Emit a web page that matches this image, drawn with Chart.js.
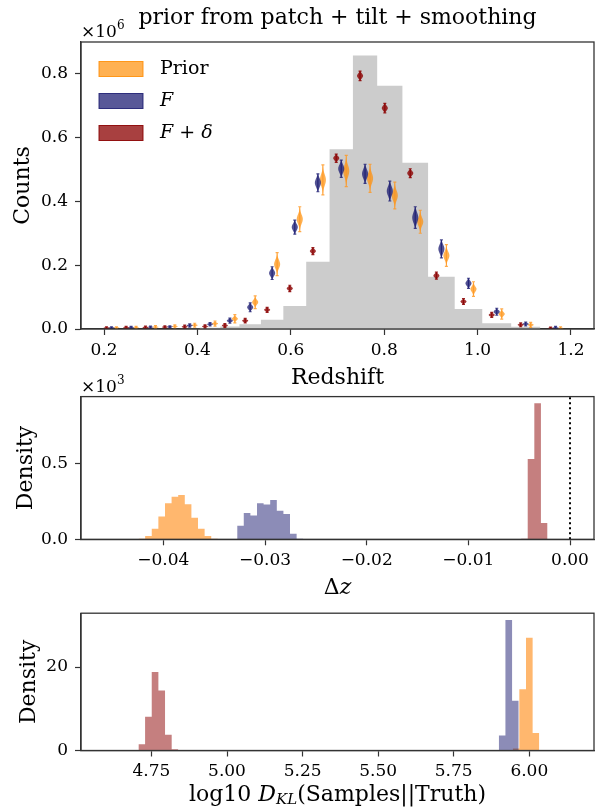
<!DOCTYPE html>
<html>
<head>
<meta charset="utf-8">
<script src="https://cdn.jsdelivr.net/npm/chart.js@4.4.1/dist/chart.umd.min.js"></script>
<style>
  body { margin: 0; background: #fff; width: 601px; height: 809px; position: relative; overflow: hidden; }
  canvas { position: absolute; left: 0; }
</style>
</head>
<body>
<canvas id="top" width="601" height="392" style="top:0px"></canvas>
<canvas id="mid" width="601" height="232" style="top:368px"></canvas>
<canvas id="bot" width="601" height="213" style="top:596px"></canvas>
<script>
// ---------- top panel: counts per redshift bin (units of 1e6) ----------
const zEdges = [0.195, 0.237, 0.279, 0.320, 0.362, 0.405, 0.449, 0.490, 0.536, 0.584, 0.633,
                0.683, 0.733, 0.785, 0.839, 0.894, 0.951, 1.010, 1.072, 1.134, 1.200];
const truthCounts = [0, 0, 0, 0, 0.001, 0.004, 0.008, 0.015, 0.029, 0.072,
                     0.211, 0.563, 0.857, 0.762, 0.521, 0.164, 0.063, 0.018, 0.007, 0];
// violin medians and half ranges (min..max) per bin
const priorMed  = [0.004, 0.005, 0.006, 0.008, 0.012, 0.017, 0.032, 0.084, 0.203, 0.344,
                   0.467, 0.495, 0.472, 0.418, 0.336, 0.230, 0.125, 0.047, 0.013, 0.002];
const priorHalf = [0.003, 0.003, 0.005, 0.005, 0.006, 0.008, 0.013, 0.020, 0.036, 0.039,
                   0.047, 0.049, 0.044, 0.042, 0.036, 0.034, 0.023, 0.016, 0.008, 0.005];
const fMed      = [0.004, 0.005, 0.006, 0.007, 0.011, 0.015, 0.026, 0.068, 0.175, 0.319,
                   0.458, 0.502, 0.486, 0.432, 0.349, 0.251, 0.143, 0.054, 0.016, 0.003];
const fHalf     = [0.003, 0.003, 0.003, 0.003, 0.005, 0.005, 0.008, 0.014, 0.020, 0.022,
                   0.028, 0.027, 0.030, 0.031, 0.034, 0.028, 0.016, 0.011, 0.006, 0.005];
const fdMed     = [0.003, 0.004, 0.005, 0.006, 0.007, 0.008, 0.011, 0.026, 0.060, 0.127,
                   0.244, 0.535, 0.793, 0.692, 0.488, 0.167, 0.086, 0.044, 0.013, 0.002];
const fdHalf    = [0.004, 0.004, 0.004, 0.004, 0.005, 0.005, 0.006, 0.007, 0.008, 0.010,
                   0.011, 0.013, 0.015, 0.015, 0.014, 0.011, 0.009, 0.008, 0.006, 0.004];
const zTicks = [0.2, 0.4, 0.6, 0.8, 1.0, 1.2];
const countTicks = [0, 0.2, 0.4, 0.6, 0.8];

// ---------- middle panel: delta z densities (units of 1e3) ----------
const dzWidth = 0.00065;
const dzPriorStart = -0.04244;
const dzPrior = [0.004, 0.022, 0.070, 0.150, 0.238, 0.282, 0.293, 0.231, 0.143, 0.070, 0.022, 0.004];
const dzFStart = -0.03274;
const dzF = [0.090, 0.173, 0.158, 0.238, 0.230, 0.260, 0.188, 0.168, 0.037, 0.003];
const dzFdStart = -0.00481;
const dzFd = [0.004, 0.531, 0.899, 0.108];
const dzTicks = [-0.04, -0.03, -0.02, -0.01, 0];
const dzDensTicks = [0, 0.5];

// ---------- bottom panel: log10 KL densities ----------
const klWidth = 0.022;
const klFdStart = 4.707;
const klFd = [1.5, 8.1, 18.8, 14.4, 3.8, 0.3];
const klFStart = 5.899;
const klF = [3.6, 31.3, 11.9];
const klPriorStart = 5.945;
const klPrior = [0.5, 14.7, 27.0, 4.2];
const klTicks = [4.75, 5.0, 5.25, 5.5, 5.75, 6.0];
const klDensTicks = [0, 20];

// ---------- styling ----------
const SERIF = "'DejaVu Serif', serif";
Chart.defaults.font.family = SERIF;
Chart.defaults.font.size = 17;
Chart.defaults.color = '#000';
Chart.defaults.animation = false;

const colPrior = 'rgba(255,128,0,0.57)';
const colF = 'rgba(25,25,112,0.5)';
const colFd = 'rgba(139,0,0,0.5)';

function uniformEdges(start, w, n) {
  return Array.from({length: n + 1}, (_, i) => start + i * w);
}
function steps(edges, heights) {
  const pts = heights.map((h, i) => ({x: edges[i], y: h}));
  pts.push({x: edges[heights.length], y: 0});
  return pts;
}
function histSet(edges, heights, color, order) {
  return {
    data: steps(edges, heights), stepped: 'before', fill: 'origin',
    backgroundColor: color, borderWidth: 0, borderColor: 'rgba(0,0,0,0)',
    pointRadius: 0, order: order
  };
}

const tickGrid = {display: true, drawOnChartArea: false, drawTicks: true, tickLength: 6, tickColor: '#333', tickWidth: 1.2};
const spine = {display: true, color: '#333', width: 1.3};

function xAxis(min, max, ticks, fmt, height, title) {
  return {
    type: 'linear', min: min, max: max,
    afterBuildTicks: s => { s.ticks = ticks.map(v => ({value: v})); },
    ticks: {callback: fmt, padding: 5, maxRotation: 0, autoSkip: false, color: '#000'},
    grid: tickGrid, border: spine,
    title: title ? {display: true, text: title, font: {size: 22}, padding: {top: 0, bottom: 1}} : {display: false},
    afterFit: s => { s.height = height; }
  };
}
function yAxis(min, max, ticks, fmt, title, pad) {
  return {
    type: 'linear', min: min, max: max,
    afterBuildTicks: s => { s.ticks = ticks.map(v => ({value: v})); },
    ticks: {callback: fmt, padding: 7, color: '#000'},
    grid: tickGrid, border: spine,
    title: {display: true, text: title, font: {size: 22}, padding: {top: pad, bottom: 0}},
    afterFit: s => { s.width = 81; }
  };
}

const frame = {
  id: 'frame',
  afterDraw(chart) {
    const {ctx, chartArea: a} = chart;
    ctx.save();
    ctx.strokeStyle = '#333';
    ctx.lineWidth = 1.3;
    ctx.strokeRect(a.left, a.top, a.width, a.height);
    ctx.restore();
  }
};

function drawRuns(ctx, runs, x, y, align) {
  let total = 0;
  runs.forEach(r => {
    ctx.font = (r.italic ? 'italic ' : '') + (r.size || 22) + 'px ' + SERIF;
    r.w = ctx.measureText(r.t).width;
    total += r.w;
  });
  let cx = align === 'center' ? x - total / 2 : x;
  runs.forEach(r => {
    ctx.font = (r.italic ? 'italic ' : '') + (r.size || 22) + 'px ' + SERIF;
    ctx.fillText(r.t, cx, y + (r.dy || 0));
    cx += r.w;
  });
}

function offsetText(exp) {
  return {
    id: 'offset' + exp,
    afterDraw(chart) {
      const {ctx, chartArea: a} = chart;
      ctx.save();
      ctx.fillStyle = '#000';
      ctx.textBaseline = 'alphabetic';
      ctx.textAlign = 'left';
      drawRuns(ctx, [{t: '\u00d710', size: 17}, {t: exp, size: 12, dy: -8}], a.left, a.top - 5, 'left');
      ctx.restore();
    }
  };
}

function xLabel(runs, dy) {
  return {
    id: 'xlabel',
    afterDraw(chart) {
      const {ctx, chartArea: a} = chart;
      ctx.save();
      ctx.fillStyle = '#000';
      ctx.textBaseline = 'middle';
      ctx.textAlign = 'left';
      drawRuns(ctx, runs, (a.left + a.right) / 2, a.bottom + dy, 'center');
      ctx.restore();
    }
  };
}

// violins for the top panel
const violinWidth = 0.013;
const violinSets = [
  {med: priorMed, half: priorHalf, shift: 0.0107, body: 'rgba(255,140,0,0.68)', line: 'rgba(255,150,30,0.8)', k: 2.7},
  {med: fMed, half: fHalf, shift: 0, body: 'rgba(25,25,112,0.75)', line: 'rgba(25,25,112,0.8)', k: 2.1},
  {med: fdMed, half: fdHalf, shift: -0.0107, body: 'rgba(139,0,0,0.8)', line: 'rgba(139,0,0,0.85)', k: 2.0}
];
const zMid = zEdges.slice(0, -1).map((e, i) => (e + zEdges[i + 1]) / 2);

const violins = {
  id: 'violins',
  afterDatasetsDraw(chart) {
    const {ctx, chartArea: a, scales: {x, y}} = chart;
    ctx.save();
    ctx.beginPath();
    ctx.rect(a.left, a.top, a.width, a.height);
    ctx.clip();
    violinSets.forEach(s => {
      s.med.forEach((m, i) => {
        const pos = zMid[i] + s.shift;
        const h = s.half[i];
        const sig = h / s.k;
        const cx = x.getPixelForValue(pos);
        const hw = x.getPixelForValue(pos + violinWidth / 2) - cx;
        const N = 30;
        ctx.beginPath();
        for (let k = 0; k <= N; k++) {
          const v = m - h + 2 * h * k / N;
          const w = hw * Math.exp(-0.5 * Math.pow((v - m) / sig, 2));
          ctx.lineTo(cx + w, y.getPixelForValue(v));
        }
        for (let k = N; k >= 0; k--) {
          const v = m - h + 2 * h * k / N;
          const w = hw * Math.exp(-0.5 * Math.pow((v - m) / sig, 2));
          ctx.lineTo(cx - w, y.getPixelForValue(v));
        }
        ctx.closePath();
        ctx.fillStyle = s.body;
        ctx.fill();
        const yt = y.getPixelForValue(m + h), yb = y.getPixelForValue(m - h);
        ctx.strokeStyle = s.line;
        ctx.lineWidth = 1.2;
        ctx.beginPath();
        ctx.moveTo(cx, yt); ctx.lineTo(cx, yb);
        ctx.moveTo(cx - hw / 2, yt); ctx.lineTo(cx + hw / 2, yt);
        ctx.moveTo(cx - hw / 2, yb); ctx.lineTo(cx + hw / 2, yb);
        ctx.stroke();
      });
    });
    ctx.restore();
  }
};

const legendItems = [
  {runs: [{t: 'Prior', size: 19}], fill: 'rgba(255,140,0,0.68)', edge: 'rgba(255,140,0,0.85)'},
  {runs: [{t: 'F', size: 19, italic: true}], fill: 'rgba(25,25,112,0.72)', edge: 'rgba(25,25,112,0.85)'},
  {runs: [{t: 'F', size: 19, italic: true}, {t: ' + ', size: 19}, {t: '\u03b4', size: 19, italic: true}],
   fill: 'rgba(139,0,0,0.75)', edge: 'rgba(139,0,0,0.9)'}
];
const legendBox = {
  id: 'legendBox',
  afterDraw(chart) {
    const {ctx, chartArea: a} = chart;
    ctx.save();
    legendItems.forEach((it, i) => {
      const cy = a.top + 27 + i * 32;
      ctx.fillStyle = it.fill;
      ctx.fillRect(a.left + 18, cy - 7.5, 44, 15);
      ctx.strokeStyle = it.edge;
      ctx.lineWidth = 1;
      ctx.strokeRect(a.left + 18, cy - 7.5, 44, 15);
      ctx.fillStyle = '#000';
      ctx.textBaseline = 'middle';
      ctx.textAlign = 'left';
      drawRuns(ctx, it.runs, a.left + 79, cy, 'left');
    });
    ctx.restore();
  }
};

const minus = v => (v < 0 ? '\u2212' : '');

// ---------- top chart ----------
new Chart(document.getElementById('top'), {
  type: 'line',
  data: {datasets: [histSet(zEdges, truthCounts, '#cccccc', 5)]},
  options: {
    responsive: false,
    layout: {padding: {left: 0, right: 7, top: 0, bottom: 0}},
    plugins: {
      legend: {display: false}, tooltip: {enabled: false},
      title: {display: true, fullSize: false, text: 'prior from patch + tilt + smoothing',
              font: {size: 22, weight: 'normal'}, color: '#000', padding: {top: 5, bottom: 10.6}}
    },
    scales: {
      x: xAxis(0.1507, 1.2493, zTicks, v => v.toFixed(1), 63, 'Redshift'),
      y: yAxis(0, 0.899, countTicks, v => v.toFixed(1), 'Counts', 10)
    }
  },
  plugins: [violins, legendBox, offsetText('6'), frame]
});

// ---------- middle chart ----------
const dzYMax = 0.943;
new Chart(document.getElementById('mid'), {
  type: 'line',
  data: {datasets: [
    histSet(uniformEdges(dzPriorStart, dzWidth, dzPrior.length), dzPrior, colPrior, 3),
    histSet(uniformEdges(dzFStart, dzWidth, dzF.length), dzF, colF, 2),
    histSet(uniformEdges(dzFdStart, dzWidth, dzFd.length), dzFd, colFd, 1),
    {data: [{x: 0, y: 0}, {x: 0, y: dzYMax}], borderColor: '#000', borderWidth: 2,
     borderDash: [2, 3], pointRadius: 0, fill: false, order: 0}
  ]},
  options: {
    responsive: false,
    layout: {padding: {left: 0, right: 7, top: 28.6, bottom: 0}},
    plugins: {legend: {display: false}, tooltip: {enabled: false}},
    scales: {
      x: xAxis(-0.0481, 0.00236, dzTicks, v => Math.abs(v) < 1e-9 ? '0.00' : minus(v) + Math.abs(v).toFixed(2), 60.7, null),
      y: yAxis(0, dzYMax, dzDensTicks, v => v.toFixed(1), 'Density', 13)
    }
  },
  plugins: [offsetText('3'), xLabel([{t: '\u0394'}, {t: 'z', italic: true}], 49), frame]
});

// ---------- bottom chart ----------
new Chart(document.getElementById('bot'), {
  type: 'line',
  data: {datasets: [
    histSet(uniformEdges(klPriorStart, klWidth, klPrior.length), klPrior, colPrior, 3),
    histSet(uniformEdges(klFStart, klWidth, klF.length), klF, colF, 2),
    histSet(uniformEdges(klFdStart, klWidth, klFd.length), klFd, colFd, 1)
  ]},
  options: {
    responsive: false,
    layout: {padding: {left: 0, right: 7, top: 10, bottom: 0}},
    plugins: {legend: {display: false}, tooltip: {enabled: false}},
    scales: {
      x: xAxis(4.517, 6.214, klTicks, v => v.toFixed(2), 58.5, null),
      y: yAxis(0, 32.9, klDensTicks, v => String(Math.round(v)), 'Density', 16)
    }
  },
  plugins: [xLabel([{t: 'log10 '}, {t: 'D', italic: true}, {t: 'KL', italic: true, size: 15, dy: 5},
                    {t: '(Samples||Truth)'}], 44.5), frame]
});
</script>
</body>
</html>
